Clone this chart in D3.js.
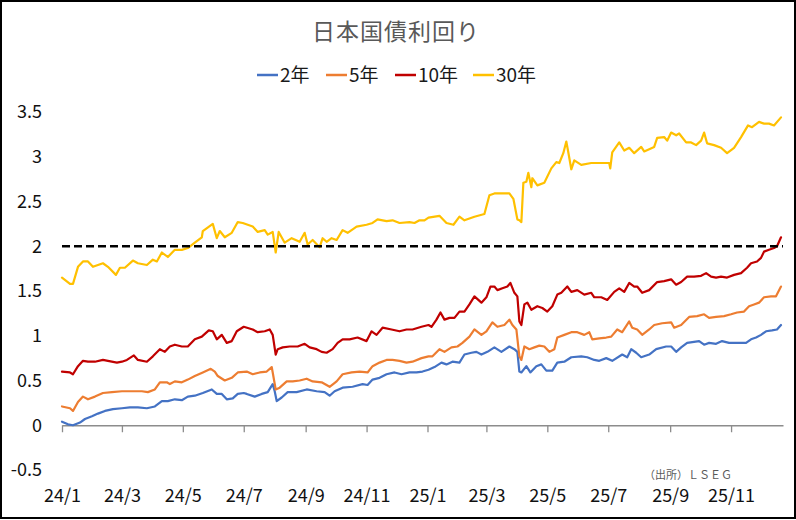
<!DOCTYPE html>
<html><head><meta charset="utf-8">
<script src="https://cdn.jsdelivr.net/npm/d3@7"></script>
<style>
html,body{margin:0;padding:0;background:#fff;}
svg{display:block;font-family:"Noto Sans CJK JP","Noto Sans",sans-serif;}
</style></head>
<body>
<svg id="chart" width="796" height="520"></svg>
<script>
// ---- data (x = days since 2024-01-01, y = yield %) ----
const title = "日本国債利回り";
const source = "（出所）ＬＳＥＧ";
const seriesNames = ["2年", "5年", "10年", "30年"];
const seriesColors = ["#4472C4", "#ED7D31", "#C00000", "#FFC000"];
const refLevel = 2;
const yTickValues = [-0.5, 0, 0.5, 1, 1.5, 2, 2.5, 3, 3.5];

const days2 = [0,6,11,18,23,30,36,43,51,60,68,76,85,93,100,106,113,120,126,133,141,150,155,160,165,171,176,182,185,193,200,206,211,213,215,220,226,235,245,255,263,268,273,281,291,301,306,311,318,325,333,340,348,355,361,367,373,380,385,391,398,403,410,415,420,426,433,440,448,453,456,458,460,465,469,475,480,485,491,496,503,510,520,526,533,538,545,551,561,566,570,575,580,588,595,605,610,615,620,626,638,643,648,655,661,668,678,685,690,695,700,705,711,716,720];
const vals2 = [0.04,0.01,0.00,0.03,0.07,0.10,0.13,0.16,0.18,0.19,0.20,0.20,0.19,0.21,0.27,0.27,0.29,0.28,0.32,0.33,0.36,0.40,0.35,0.35,0.29,0.30,0.35,0.36,0.35,0.32,0.35,0.37,0.46,0.38,0.27,0.31,0.37,0.37,0.40,0.38,0.37,0.33,0.38,0.42,0.43,0.46,0.45,0.51,0.53,0.57,0.59,0.57,0.59,0.59,0.60,0.62,0.65,0.70,0.68,0.71,0.70,0.79,0.81,0.82,0.79,0.82,0.87,0.82,0.88,0.85,0.82,0.60,0.59,0.66,0.59,0.66,0.68,0.61,0.61,0.70,0.71,0.76,0.77,0.76,0.73,0.72,0.75,0.72,0.79,0.76,0.85,0.81,0.76,0.79,0.85,0.88,0.88,0.82,0.87,0.92,0.94,0.90,0.92,0.91,0.94,0.92,0.92,0.92,0.96,0.98,1.01,1.05,1.06,1.07,1.12];

const days5 = [0,8,11,16,21,26,33,41,50,60,70,80,86,93,98,105,108,113,120,126,133,141,149,153,156,163,170,176,185,191,198,205,210,211,214,218,225,231,238,245,251,260,268,275,281,290,298,306,311,318,325,331,338,345,351,360,367,371,378,383,390,396,401,408,413,420,425,431,436,443,448,451,455,458,460,463,468,473,478,483,488,493,496,503,510,516,523,528,531,538,545,550,556,561,568,571,576,581,588,593,601,610,613,620,628,636,643,648,655,663,670,676,683,688,693,698,703,710,715,720];
const vals5 = [0.21,0.19,0.16,0.26,0.32,0.29,0.32,0.36,0.37,0.38,0.38,0.38,0.37,0.40,0.48,0.48,0.46,0.49,0.48,0.51,0.55,0.59,0.63,0.60,0.55,0.50,0.53,0.59,0.60,0.57,0.59,0.60,0.65,0.59,0.40,0.42,0.49,0.49,0.50,0.52,0.49,0.48,0.43,0.49,0.57,0.59,0.60,0.59,0.66,0.70,0.73,0.73,0.72,0.70,0.71,0.75,0.77,0.77,0.85,0.82,0.87,0.88,0.92,0.99,1.07,1.01,1.05,1.15,1.10,1.12,1.18,1.12,1.07,0.77,0.73,0.88,0.85,0.87,0.89,0.88,0.82,0.85,0.98,1.01,1.04,1.04,1.01,1.04,0.96,0.97,0.98,0.99,1.07,1.04,1.16,1.09,1.07,1.01,1.07,1.12,1.14,1.15,1.09,1.12,1.21,1.22,1.24,1.20,1.21,1.22,1.24,1.26,1.27,1.33,1.35,1.37,1.43,1.44,1.44,1.55];

const days10 = [0,8,11,16,21,26,33,41,46,55,60,65,72,76,85,91,98,103,108,113,120,126,133,140,147,151,155,160,165,170,175,182,191,196,203,208,211,214,216,221,228,236,243,248,255,260,265,271,276,281,288,296,305,310,315,321,330,338,345,351,360,367,370,375,379,383,388,393,398,403,408,413,420,425,429,433,436,441,446,449,453,456,458,460,463,466,470,476,481,486,491,496,500,506,510,516,523,530,533,540,546,553,558,563,568,573,576,581,588,596,603,610,615,620,626,633,640,645,650,655,660,666,673,680,686,690,696,700,703,708,713,716,720];
const vals10 = [0.60,0.59,0.57,0.66,0.72,0.71,0.71,0.73,0.72,0.70,0.71,0.73,0.78,0.73,0.71,0.77,0.85,0.82,0.88,0.90,0.88,0.88,0.96,0.99,1.06,1.05,0.96,1.01,0.92,0.94,1.05,1.10,1.07,1.04,1.05,1.07,1.01,0.79,0.85,0.87,0.88,0.88,0.91,0.87,0.85,0.82,0.81,0.85,0.92,0.96,0.96,0.98,0.94,1.05,1.01,1.09,1.07,1.05,1.07,1.07,1.10,1.12,1.10,1.18,1.26,1.18,1.20,1.20,1.27,1.27,1.35,1.44,1.37,1.43,1.55,1.55,1.51,1.53,1.55,1.59,1.48,1.44,1.16,1.12,1.35,1.37,1.29,1.33,1.31,1.27,1.33,1.46,1.48,1.55,1.49,1.51,1.46,1.48,1.43,1.43,1.40,1.49,1.53,1.49,1.59,1.55,1.55,1.48,1.51,1.60,1.61,1.63,1.57,1.60,1.66,1.66,1.67,1.70,1.66,1.65,1.66,1.65,1.68,1.70,1.76,1.81,1.83,1.87,1.94,1.96,1.98,2.00,2.10];

const days30 = [0,8,11,16,21,26,31,41,46,54,58,63,71,76,85,91,95,100,106,113,120,126,133,140,141,151,155,158,163,170,176,181,191,196,203,206,211,214,217,223,230,238,243,246,251,258,261,265,270,275,281,286,295,305,311,316,325,331,338,348,353,358,363,367,378,385,392,398,403,413,423,428,433,443,448,452,456,458,460,462,465,467,470,471,476,483,490,495,498,502,505,507,510,513,520,530,540,548,549,551,558,563,568,573,580,583,593,596,603,606,610,615,618,625,630,635,640,643,646,653,660,666,673,680,687,691,698,703,708,713,720];
const vals30 = [1.65,1.58,1.58,1.77,1.83,1.83,1.77,1.81,1.77,1.68,1.76,1.76,1.84,1.81,1.79,1.85,1.83,1.93,1.88,1.96,1.96,1.98,2.04,2.10,2.17,2.25,2.09,2.17,2.10,2.15,2.27,2.26,2.22,2.16,2.18,2.13,2.16,1.93,2.16,2.04,2.09,2.05,2.15,2.02,2.07,1.99,2.09,2.05,2.09,2.07,2.18,2.15,2.22,2.24,2.26,2.30,2.28,2.29,2.26,2.27,2.26,2.29,2.29,2.32,2.34,2.26,2.24,2.33,2.29,2.33,2.36,2.57,2.59,2.59,2.59,2.53,2.30,2.29,2.27,2.71,2.72,2.82,2.66,2.76,2.68,2.71,2.87,2.94,2.93,3.04,3.17,3.05,2.86,2.96,2.91,2.93,2.93,2.93,2.87,3.05,3.16,3.07,3.10,3.04,3.11,3.06,3.11,3.21,3.22,3.18,3.27,3.24,3.26,3.16,3.16,3.13,3.18,3.27,3.15,3.13,3.10,3.04,3.10,3.22,3.35,3.33,3.39,3.37,3.37,3.35,3.44];

const seriesDays = [days2, days5, days10, days30];
const seriesVals = [vals2, vals5, vals10, vals30];

// ---- drawing ----
const baseDate = new Date(2024, 0, 1);
const endDate = new Date(2025, 11, 23);
const toDate = d => d3.timeDay.offset(baseDate, d);

const svg = d3.select("#chart");
const W = 796, H = 520;
const plot = {left: 62, right: 783, top: 112, bottom: 470};

const x = d3.scaleTime().domain([baseDate, endDate]).range([plot.left, plot.right]);
const y = d3.scaleLinear().domain([-0.5, 3.5]).range([plot.bottom, plot.top]);

svg.append("rect").attr("x", 0).attr("y", 0).attr("width", W).attr("height", H).attr("fill", "#fff");

// title
svg.append("text").attr("x", 396).attr("y", 40).attr("text-anchor", "middle")
  .attr("font-size", 23).attr("fill", "#595959").attr("letter-spacing", 1).text(title);

// legend
const legendX = [257, 326, 395, 473];
const leg = svg.append("g");
seriesNames.forEach((n, i) => {
  const g = leg.append("g").attr("transform", `translate(${legendX[i]},75)`);
  g.append("line").attr("x1", 0).attr("x2", 21).attr("y1", 0).attr("y2", 0)
    .attr("stroke", seriesColors[i]).attr("stroke-width", 2.5);
  g.append("text").attr("x", 23).attr("y", 0).attr("dy", "0.36em")
    .attr("font-size", 19).attr("fill", "#1a1a1a").text(n);
});

// y axis labels
const yAxis = d3.axisLeft(y).tickValues(yTickValues).tickSize(0).tickPadding(20)
  .tickFormat(d => String(d));
const gy = svg.append("g").attr("transform", `translate(${plot.left},0)`).call(yAxis);
gy.select(".domain").remove();
gy.selectAll("text").attr("font-size", 18).attr("fill", "#111")
  .attr("font-family", '"Noto Sans CJK JP","Noto Sans",sans-serif');

// x axis at y = 0
const xAxis = d3.axisBottom(x).ticks(d3.timeMonth.every(2)).tickSize(7).tickSizeOuter(0)
  .tickPadding(57).tickFormat(d => `${String(d.getFullYear()).slice(2)}/${d.getMonth() + 1}`);
const gx = svg.append("g").attr("transform", `translate(0,${y(0)})`).call(xAxis);
gx.select(".domain").attr("stroke", "#8c8c8c").attr("stroke-width", 1.3);
gx.selectAll(".tick line").attr("stroke", "#8c8c8c").attr("stroke-width", 1.3);
gx.selectAll("text").attr("font-size", 18).attr("fill", "#111")
  .attr("font-family", '"Noto Sans CJK JP","Noto Sans",sans-serif');

// series lines
const line = d3.line().x(d => x(d[0])).y(d => y(d[1])).curve(d3.curveLinear);
seriesNames.forEach((n, i) => {
  const pts = seriesDays[i].map((d, k) => [toDate(d), seriesVals[i][k]]);
  svg.append("path").datum(pts).attr("d", line).attr("fill", "none")
    .attr("stroke", seriesColors[i]).attr("stroke-width", 2.2)
    .attr("stroke-linejoin", "round").attr("stroke-linecap", "round");
});

// reference dashed line at 2%
svg.append("line").attr("x1", x(baseDate)).attr("x2", x(endDate))
  .attr("y1", y(refLevel)).attr("y2", y(refLevel))
  .attr("stroke", "#000").attr("stroke-width", 2.5).attr("stroke-dasharray", "8,4");

// source
svg.append("text").attr("x", 644).attr("y", 479).attr("font-size", 11)
  .attr("fill", "#595959").text(source);

// outer frame
svg.append("rect").attr("x", 1).attr("y", 1).attr("width", W - 2).attr("height", H - 3)
  .attr("fill", "none").attr("stroke", "#000").attr("stroke-width", 2);
</script>
</body></html>
